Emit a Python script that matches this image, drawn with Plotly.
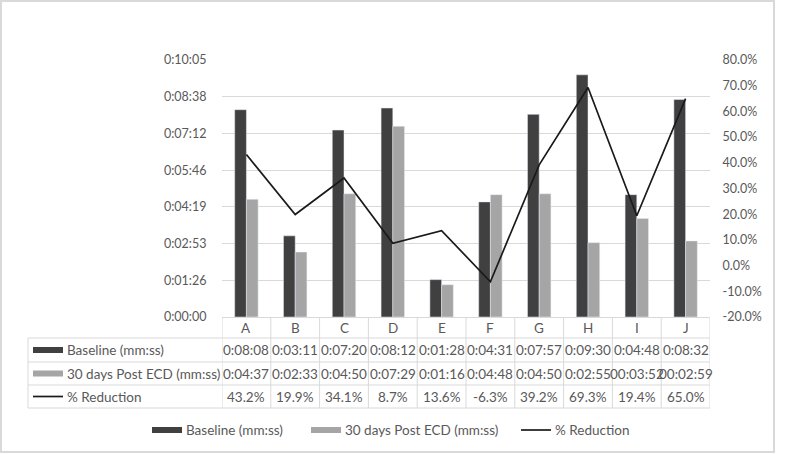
import plotly.graph_objects as go

categories = ["A", "B", "C", "D", "E", "F", "G", "H", "I", "J"]
baseline_txt = ["0:08:08", "0:03:11", "0:07:20", "0:08:12", "0:01:28",
                "0:04:31", "0:07:57", "0:09:30", "0:04:48", "0:08:32"]
post_txt = ["0:04:37", "0:02:33", "0:04:50", "0:07:29", "0:01:16",
            "0:04:48", "0:04:50", "0:02:55", "00:03:52", "00:02:59"]
reduction = [43.2, 19.9, 34.1, 8.7, 13.6, -6.3, 39.2, 69.3, 19.4, 65.0]

left_ticks = ["0:00:00", "0:01:26", "0:02:53", "0:04:19", "0:05:46", "0:07:12", "0:08:38", "0:10:05"]
left_max = 605  # seconds, 0:10:05
right_ticks = [-20, -10, 0, 10, 20, 30, 40, 50, 60, 70, 80]

series_names = ["Baseline (mm:ss)", "30 days Post ECD (mm:ss)", "% Reduction"]
DARK, LIGHT, LINE = "#404040", "#a5a5a5", "#1a1a1a"
GRID, TXT = "#d9d9d9", "#595959"
FONT = "Lato"


def to_sec(s):
    h, m, sec = (int(p) for p in s.split(":"))
    return h * 3600 + m * 60 + sec


baseline = [to_sec(s) for s in baseline_txt]
post = [to_sec(s) for s in post_txt]

# plot area in pixels
L, R, T, B = 222, 710, 60, 317
W, H = R - L, B - T


def px(x):
    return (x - L) / W


def py(y):
    return (B - y) / H


fig = go.Figure()
fig.add_trace(go.Bar(x=categories, y=baseline, name=series_names[0], marker_color=DARK))
fig.add_trace(go.Bar(x=categories, y=post, name=series_names[1], marker_color=LIGHT))
fig.add_trace(go.Scatter(x=categories, y=reduction, name=series_names[2], yaxis="y2",
                         mode="lines", line=dict(color=LINE, width=1.7)))

shapes = []
ann = []
gl = dict(color=GRID, width=1)

# table rows (pixel y of horizontal lines)
row_y = [317, 338, 362, 385, 408]
tbl_left = 28
for y in row_y[1:]:
    shapes.append(dict(type="line", xref="paper", yref="paper", x0=px(tbl_left), x1=px(R),
                       y0=py(y), y1=py(y), line=gl))
shapes.append(dict(type="line", xref="paper", yref="paper", x0=px(tbl_left), x1=px(tbl_left),
                   y0=py(338), y1=py(408), line=gl))
n = len(categories)
for i in range(n + 1):
    shapes.append(dict(type="line", xref="x", yref="paper", x0=i - 0.5, x1=i - 0.5,
                       y0=py(317), y1=py(408), line=gl))

tfont = dict(family=FONT, size=13.5, color=TXT)
row_centers = [(row_y[k] + row_y[k + 1]) / 2 for k in range(4)]


def cell(x, yc, text, xref="x", xanchor="center"):
    ann.append(dict(x=x, y=py(yc), xref=xref, yref="paper", text=text, showarrow=False,
                    xanchor=xanchor, yanchor="middle", font=tfont))


for i, c in enumerate(categories):
    cell(i, row_centers[0], c)
    cell(i, row_centers[1], baseline_txt[i])
    cell(i, row_centers[2], post_txt[i])
    cell(i, row_centers[3], f"{reduction[i]:.1f}%")


def legend_key(x, y, kind, color, label):
    if kind == "bar":
        shapes.append(dict(type="rect", xref="paper", yref="paper", x0=px(x), x1=px(x + 30),
                           y0=py(y + 3), y1=py(y - 3), fillcolor=color, line=dict(width=0)))
    else:
        shapes.append(dict(type="line", xref="paper", yref="paper", x0=px(x), x1=px(x + 30),
                           y0=py(y), y1=py(y), line=dict(color=color, width=1.7)))
    cell(px(x + 32), y, label, xref="paper", xanchor="left")


kinds = ["bar", "bar", "line"]
colors = [DARK, LIGHT, LINE]
for k in range(3):
    legend_key(33, row_centers[k + 1], kinds[k], colors[k], series_names[k])

# bottom legend
for k, x in enumerate([152, 311, 521]):
    legend_key(x, 430, kinds[k], colors[k], series_names[k])

# outer border
shapes.append(dict(type="rect", xref="paper", yref="paper", x0=px(1), x1=px(774),
                   y0=py(452), y1=py(1), line=dict(color=GRID, width=2), layer="below"))

fig.update_layout(
    width=800, height=454,
    margin=dict(l=L, r=800 - R, t=T, b=454 - B),
    paper_bgcolor="white", plot_bgcolor="white",
    barmode="group", bargap=0.52, bargroupgap=0,
    showlegend=False,
    font=dict(family=FONT, size=12, color=TXT),
    xaxis=dict(showticklabels=False, showline=True, linecolor=GRID, ticks="",
               showgrid=False, range=[-0.5, n - 0.5]),
    yaxis=dict(range=[0, left_max], tickvals=[i * left_max / 7 for i in range(8)],
               ticktext=left_ticks, showgrid=True, gridcolor=GRID, zeroline=False,
               ticks="outside", ticklen=12, tickcolor="rgba(0,0,0,0)",
               tickfont=dict(family=FONT, size=12.5, color=TXT)),
    yaxis2=dict(overlaying="y", side="right", range=[-20, 80], tickvals=right_ticks,
                ticktext=[f"{v:.1f}%" for v in right_ticks], showgrid=False, zeroline=False,
                ticks="outside", ticklen=9, tickcolor="rgba(0,0,0,0)",
                tickfont=dict(family=FONT, size=12.5, color=TXT)),
    shapes=shapes, annotations=ann,
)

fig.write_html("out.html", config={"displayModeBar": False},
               post_script="document.body.style.margin='0';")
